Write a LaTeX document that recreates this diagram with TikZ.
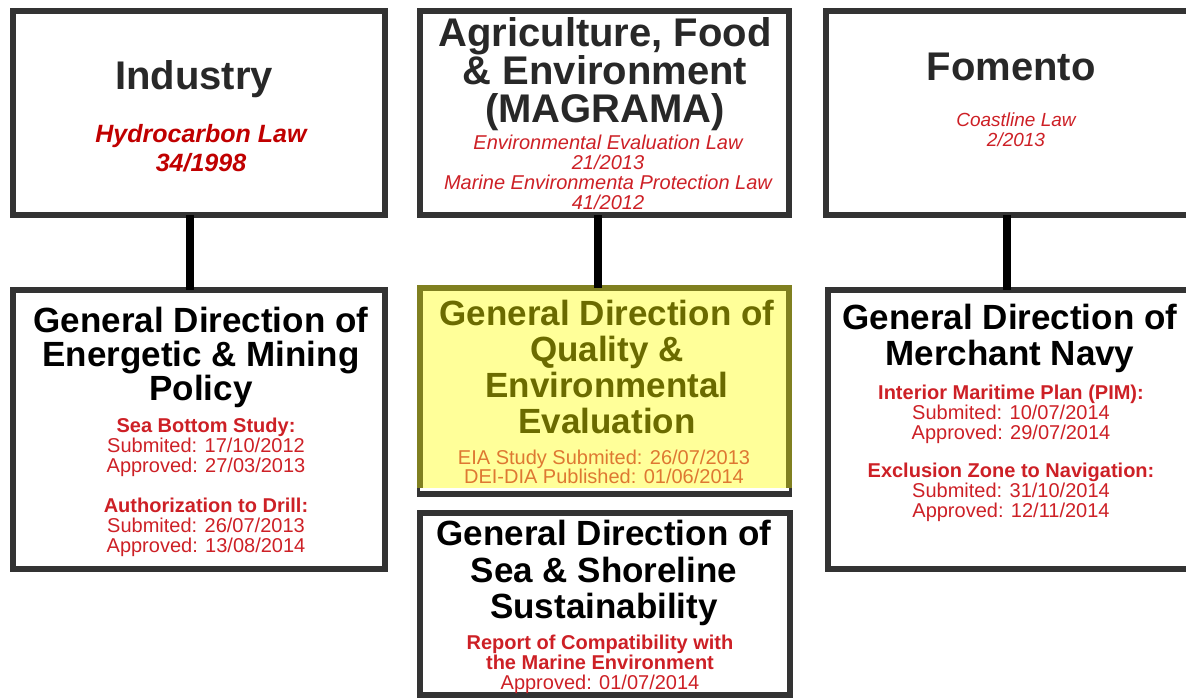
\documentclass[tikz,border=0pt]{standalone}
\usepackage{fontspec}
\setmainfont{Liberation Sans}
\usepackage{tikz}
\usetikzlibrary{
  calc,
  positioning,
}
\tikzstyle{box} = [
  draw=boxgray,
  line width=6pt,
  inner sep=0pt,
  outer sep=0pt,
  minimum width=372pt,
]
\tikzstyle{link} = [
  line width=8pt,
  black,
]
\tikzstyle{ministry} = [
  anchor=north,
  align=center,
  inner sep=0pt,
  font=\bfseries\fontsize{40}{38}\selectfont,
  text=titlegray,
]
\tikzstyle{direction} = [
  anchor=north,
  align=center,
  inner sep=0pt,
  font=\bfseries\fontsize{35}{35}\selectfont,
  text=black,
]
\tikzstyle{details} = [
  anchor=north,
  align=center,
  inner sep=0pt,
  font=\fontsize{20}{20}\selectfont,
  text=lawred,
]
\definecolor{boxgray}{RGB}{51, 51, 51}
\definecolor{titlegray}{RGB}{40, 40, 40}
\definecolor{lawred}{RGB}{205, 32, 38}
\definecolor{darkred}{RGB}{192, 0, 0}
\definecolor{hlyellow}{RGB}{255, 255, 153}
\definecolor{hlolive}{RGB}{128, 128, 32}
\definecolor{olivetext}{RGB}{107, 107, 0}
\definecolor{orangetext}{RGB}{222, 120, 50}

\begin{document}
\begin{tikzpicture}[x=1pt, y=-1pt]
      \clip (0, 0) rectangle (1186, 698);

      % ministries
      \node [box, minimum height=204pt] (industry) at (199, 113) {};
      \node [box, minimum width=369pt, minimum height=204pt] (magrama) at (604.5, 113) {};
      \node [box, minimum width=369pt, minimum height=204pt] (fomento) at (1010.5, 113) {};

      % general directions
      \node [box, minimum height=279pt] (energetic) at (199, 429.5) {};
      \node [box, minimum width=369pt, minimum height=206pt, fill=hlyellow] (quality) at (604.5, 391) {};
      \node [box, minimum width=369pt, minimum height=279pt] (navy) at (1012.5, 429.5) {};
      \node [box, minimum width=370pt, minimum height=182pt] (shore) at (605, 604) {};

      \draw [hlolive, line width=6pt] ([yshift=6pt]quality.south west) -- (quality.north west)
        -- (quality.north east) -- ([yshift=6pt]quality.south east);
      \draw [white, line width=3pt] ([yshift=4.5pt]quality.south west) -- ([yshift=4.5pt]quality.south east);

      \draw [link] ([xshift=-9pt]industry.south) -- ([xshift=-9pt]energetic.north);
      \draw [link] ([xshift=-6.5pt]magrama.south) -- ([xshift=-6.5pt]quality.north);
      \draw [link] ([xshift=-3.5pt]fomento.south) -- ([xshift=-5.5pt]navy.north);

      \node [ministry] (industry-name) at (194, 60.5) {Industry};
      \node [details, font=\bfseries\itshape\fontsize{25}{29}\selectfont, text=darkred]
        (industry-law) at (201, 124) {Hydrocarbon Law\\34/1998};

      \node [ministry] (magrama-name) at (605, 17.5) {Agriculture, Food\\\& Environment\\(MAGRAMA)};
      \node [details, font=\itshape\fontsize{20}{20}\selectfont] (magrama-law) at (608, 135)
        {Environmental Evaluation Law\\21/2013\\Marine Environmenta Protection Law\\41/2012};

      \node [ministry] (fomento-name) at (1011, 52.5) {Fomento};
      \node [details, font=\itshape\fontsize{19}{19.5}\selectfont] (fomento-law) at (1016, 113)
        {Coastline Law\\2/2013};

      \node [direction, font=\bfseries\fontsize{35}{34}\selectfont] (energetic-name) at (201, 307)
        {General Direction of\\Energetic \& Mining\\Policy};
      \node [details] (energetic-steps) at (206, 418)
        {\textbf{Sea Bottom Study:}\\Submited: 17/10/2012\\Approved: 27/03/2013\\[20pt]
         \textbf{Authorization to Drill:}\\Submited: 26/07/2013\\Approved: 13/08/2014};

      \node [direction, font=\bfseries\fontsize{35}{36}\selectfont, text=olivetext] (quality-name) at (607, 300)
        {General Direction of\\Quality \&\\Environmental\\Evaluation};
      \node [details, font=\fontsize{20}{19}\selectfont, text=orangetext] (quality-steps) at (604, 450)
        {EIA Study Submited: 26/07/2013\\DEI-DIA Published: 01/06/2014};

      \node [direction, font=\bfseries\fontsize{35}{36}\selectfont] (navy-name) at (1010, 304)
        {General Direction of\\Merchant Navy};
      \node [details] (navy-steps) at (1011, 385)
        {\textbf{Interior Maritime Plan (PIM):}\\Submited: 10/07/2014\\Approved: 29/07/2014\\[18pt]
         \textbf{Exclusion Zone to Navigation:}\\Submited: 31/10/2014\\Approved: 12/11/2014};

      \node [direction, font=\bfseries\fontsize{35}{36.5}\selectfont] (shore-name) at (604, 520)
        {General Direction of\\Sea \& Shoreline\\Sustainability};
      \node [details] (shore-steps) at (600, 635)
        {\textbf{Report of Compatibility with}\\\textbf{the Marine Environment}\\Approved: 01/07/2014};
    \end{tikzpicture}
\end{document}
